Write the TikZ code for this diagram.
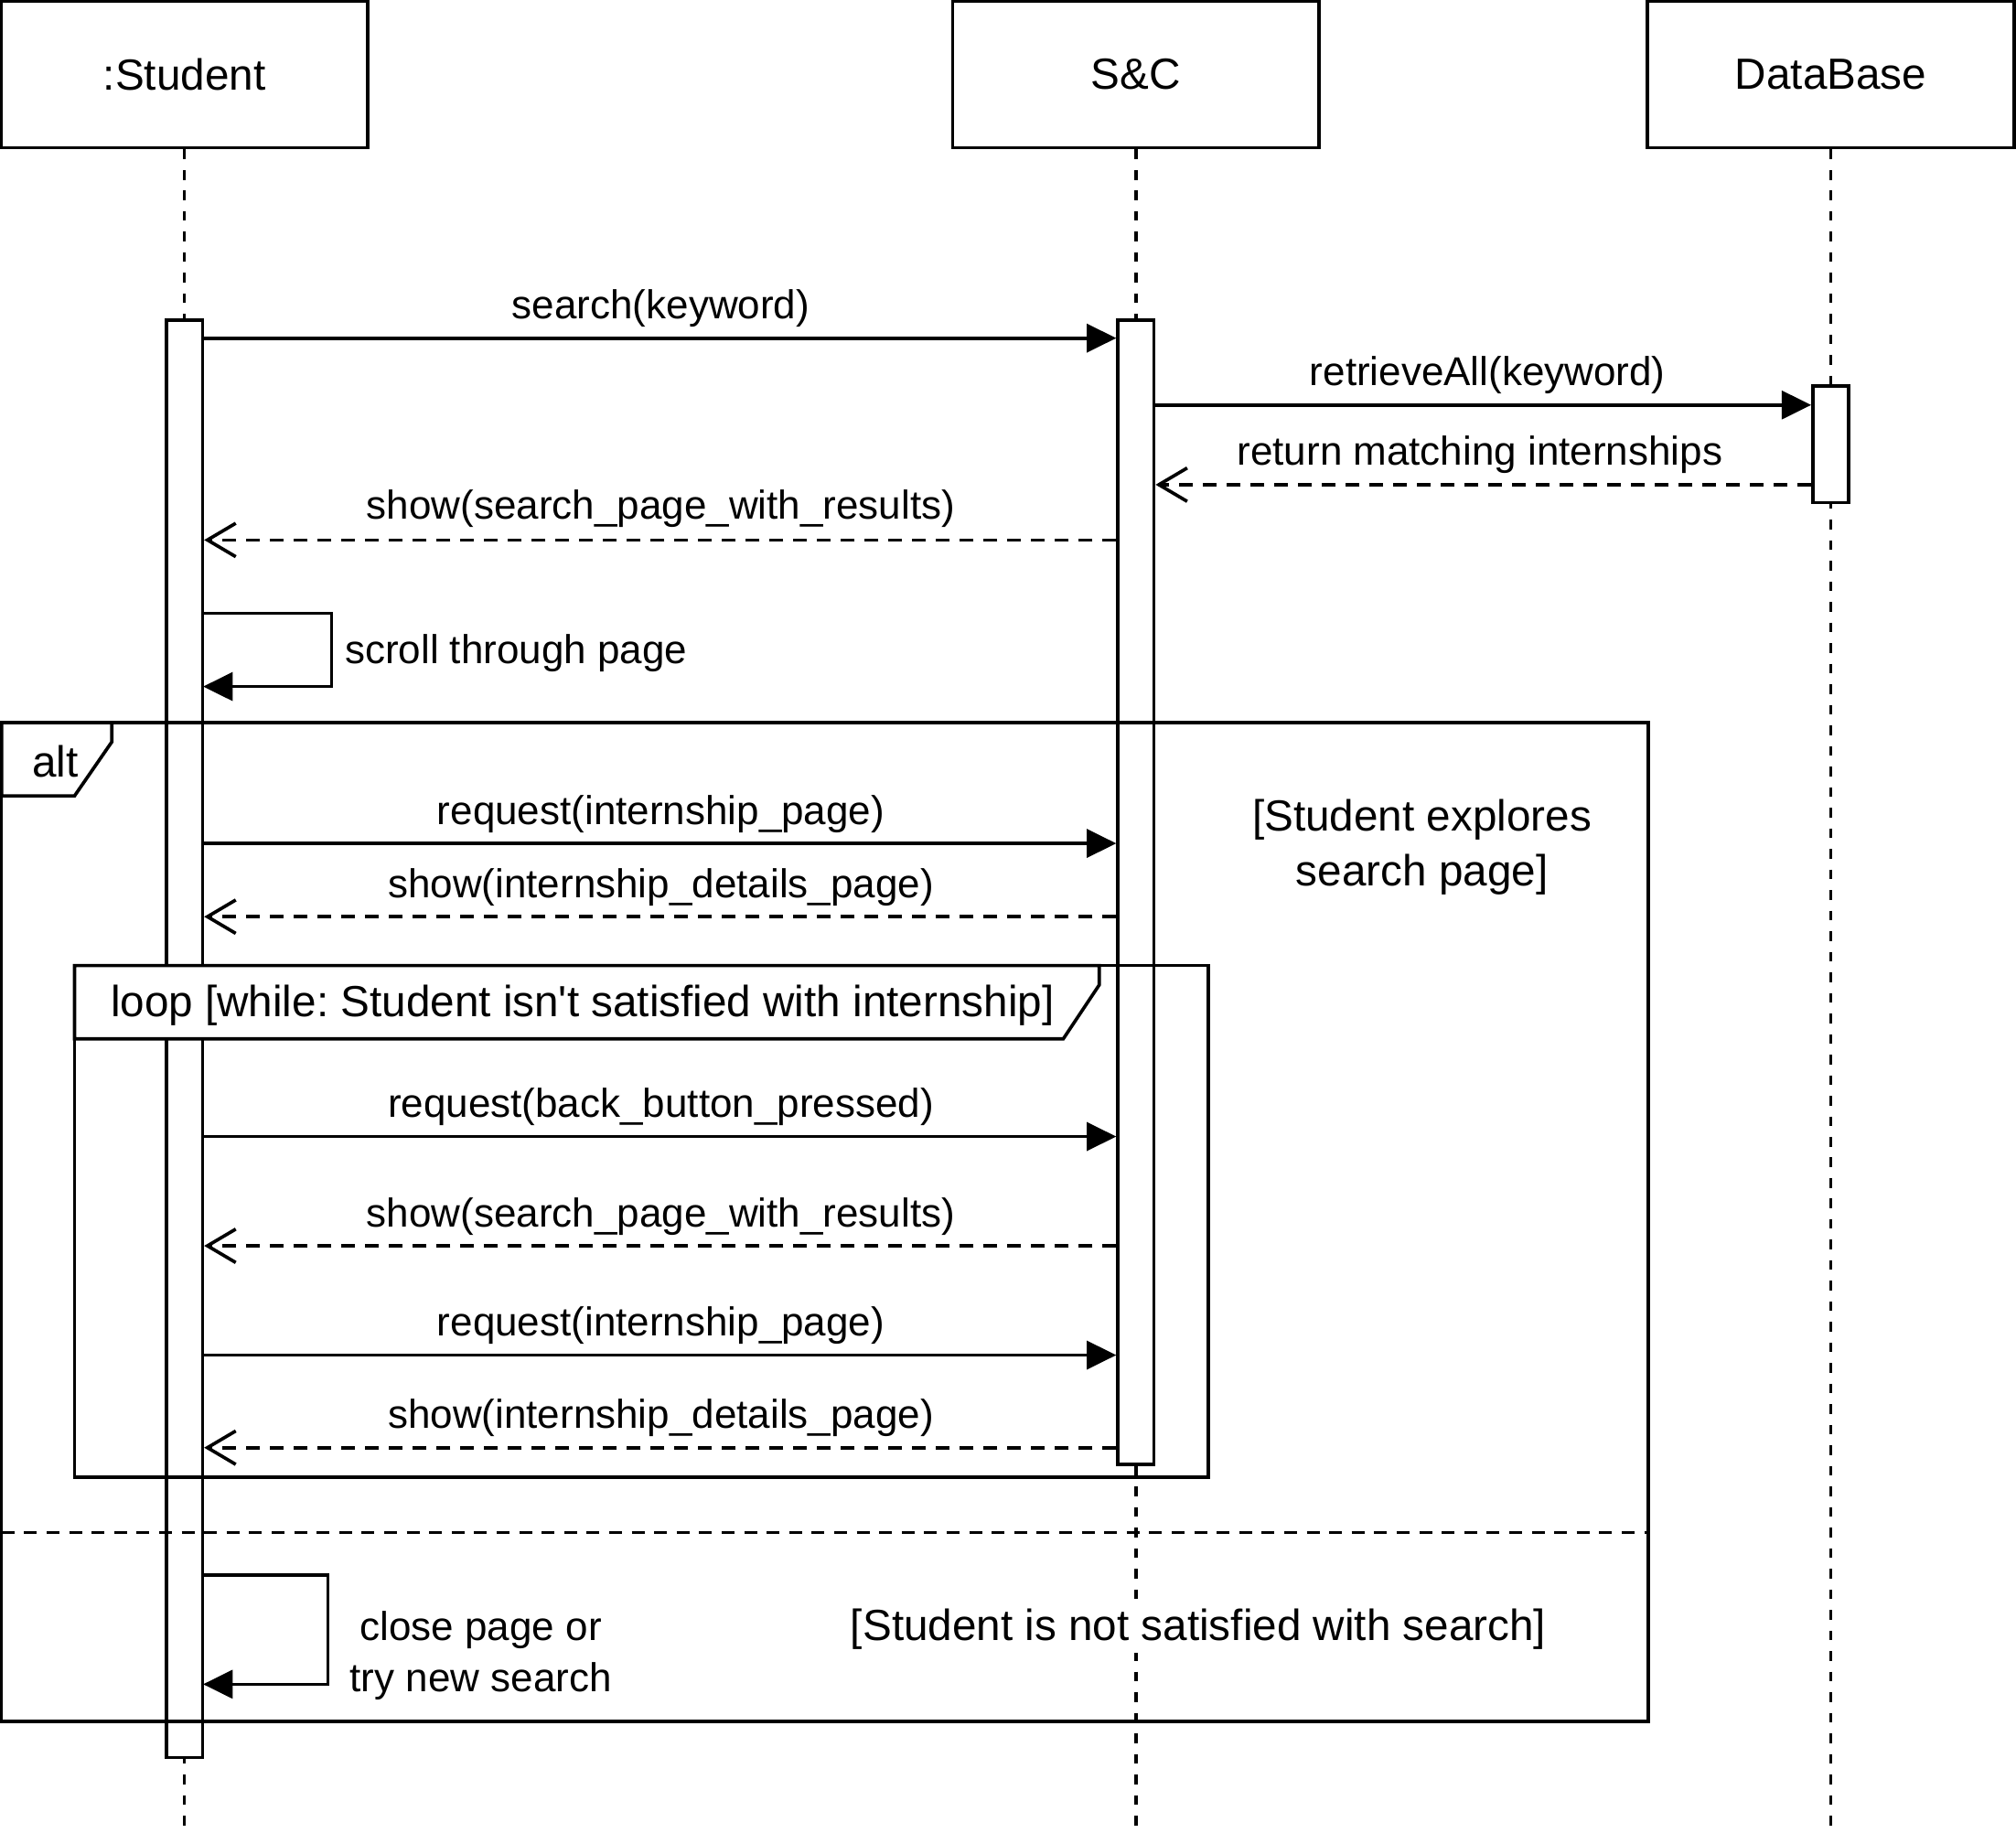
\documentclass[tikz,border=0pt]{standalone}
\usepackage{fontspec}
\setmainfont{Liberation Sans}
\usetikzlibrary{arrows.meta}
\frenchspacing
\begin{document}
\begin{tikzpicture}[x=1pt,y=-1pt,line width=2.6pt,
  msgfont/.style={font=\fontsize{31.3}{40}\selectfont},
  bigfont/.style={font=\fontsize{33.9}{43}\selectfont},
  lbl/.style={msgfont,inner sep=0pt},
  biglbl/.style={bigfont,inner sep=0pt,align=center},
  headbox/.style={draw,fill=white,minimum width=285pt,minimum height=114pt,inner sep=0pt,bigfont},
  actbox/.style={draw,fill=white,minimum width=28pt,inner sep=0pt},
  lifeline/.style={line width=2.4pt,dash pattern=on 7.5pt off 8.5pt},
  callmsg/.style={-{Triangle[length=23pt,width=22pt]}},
  retmsg/.style={dash pattern=on 11pt off 7.5pt,-{Straight Barb[length=22pt,width=26pt]}},
  divider/.style={dash pattern=on 10pt off 7.5pt},
  tabshape/.style={draw,fill=white,line join=miter}
]
\useasboundingbox (0,0) rectangle (1568,1425.7);

% headers
\node[headbox] (hS) at (143.5,58) {:Student};
\node[headbox] (hC) at (883.5,58) {S\&C};
\node[headbox] (hD) at (1424,58) {DataBase};

% lifeline ends
\coordinate (eS) at (143.5,1425.7);
\coordinate (eC) at (883.5,1425.7);
\coordinate (eD) at (1424,1425.7);
\draw[lifeline] (hS.south) -- (eS);
\draw[lifeline] (hC.south) -- (eC);
\draw[lifeline] (hD.south) -- (eD);

% activations
\node[actbox,minimum height=1118pt] (aS) at (143.5,808) {};
\node[actbox,minimum height=890pt] (aC) at (883.5,694) {};
\node[actbox,minimum height=91pt] (aD) at (1424,345.5) {};

% frames
\node[draw,minimum width=1281pt,minimum height=777pt,inner sep=0pt] (altf) at (641.5,950.5) {};
\draw[tabshape] (1.3,562) -- (87,562) -- (87,577) -- (58,619) -- (1.3,619) -- cycle;
\node[biglbl] (altl) at (43,592) {alt};
\node[draw,minimum width=882pt,minimum height=398pt,inner sep=0pt] (loopf) at (499,950) {};
\draw[tabshape] (58,751) -- (855,751) -- (855,766) -- (827,808) -- (58,808) -- cycle;
\node[biglbl] (loopl) at (453,782) {loop [while: Student isn\textquotesingle t satisfied with internship]};
\coordinate (dL) at (1.3,1192);
\coordinate (dR) at (1282,1192);
\draw[divider] (dL) -- (dR);

% message levels
\coordinate (y1) at (0,263);
\coordinate (y2) at (0,315);
\coordinate (y3) at (0,377);
\coordinate (y4) at (0,420);
\coordinate (y5) at (0,656);
\coordinate (y6) at (0,713);
\coordinate (y7) at (0,884);
\coordinate (y8) at (0,969);
\coordinate (y9) at (0,1054);
\coordinate (y10) at (0,1126);

\draw[callmsg] (aS.east |- y1) -- (aC.west |- y1);
\node[lbl] (t1) at (514,240) {search(keyword)};
\draw[callmsg] (aC.east |- y2) -- (aD.west |- y2);
\node[lbl] (t2) at (1157,292) {retrieveAll(keyword)};
\draw[retmsg] (aD.west |- y3) -- (aC.east |- y3);
\node[lbl] (t3) at (1151,354) {return matching internships};
\draw[retmsg] (aC.west |- y4) -- (aS.east |- y4);
\node[lbl] (t4) at (514,396) {show(search\_page\_with\_results)};

% self loop 1
\coordinate (s1a) at (158,477);
\coordinate (s1b) at (258,477);
\coordinate (s1c) at (258,534);
\coordinate (s1d) at (158,534);
\draw[callmsg] (s1a) -- (s1b) -- (s1c) -- (s1d);
\node[lbl,anchor=west] (t5) at (267,508) {scroll through page};

\draw[callmsg] (aS.east |- y5) -- (aC.west |- y5);
\node[lbl] (t6) at (514,633) {request(internship\_page)};
\draw[retmsg] (aC.west |- y6) -- (aS.east |- y6);
\node[lbl] (t7) at (514,690) {show(internship\_details\_page)};
\node[biglbl] (g1) at (1106,659) {[Student explores\\search page]};

\draw[callmsg] (aS.east |- y7) -- (aC.west |- y7);
\node[lbl] (t8) at (514,861) {request(back\_button\_pressed)};
\draw[retmsg] (aC.west |- y8) -- (aS.east |- y8);
\node[lbl] (t9) at (514,946) {show(search\_page\_with\_results)};
\draw[callmsg] (aS.east |- y9) -- (aC.west |- y9);
\node[lbl] (t10) at (514,1031) {request(internship\_page)};
\draw[retmsg] (aC.west |- y10) -- (aS.east |- y10);
\node[lbl] (t11) at (514,1103) {show(internship\_details\_page)};

% self loop 2
\coordinate (s2a) at (158,1225);
\coordinate (s2b) at (255,1225);
\coordinate (s2c) at (255,1310);
\coordinate (s2d) at (158,1310);
\draw[callmsg] (s2a) -- (s2b) -- (s2c) -- (s2d);
\node[lbl,align=center] (t12) at (374,1288) {close page or\\try new search};
\node[bigfont,fill=white,inner sep=3pt] (g2) at (932,1267) {[Student is not satisfied with search]};
\end{tikzpicture}
\end{document}
